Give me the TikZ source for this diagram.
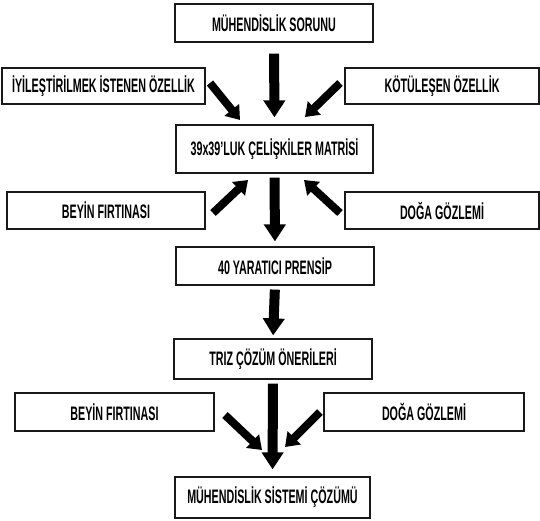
\documentclass[tikz,border=0pt]{standalone}
\usepackage{fontspec}
\setmainfont{Liberation Sans}[FakeStretch=0.55]
\usetikzlibrary{arrows.meta}
\begin{document}
\begin{tikzpicture}[x=1pt,y=-1pt,
  box/.style={draw=black!90, line width=1.2pt, rectangle, inner sep=0pt,
    font=\fontsize{19.5}{21}\selectfont\bfseries},
  bigarrow/.style={line width=10pt, -{Triangle[length=17pt,width=21pt]}},
  smallarrow/.style={line width=8pt, -{Triangle[length=13pt,width=18pt]}}]
\useasboundingbox (0,0) rectangle (540,520);
% boxes
\node[box, minimum width=198pt, minimum height=38pt] (b1) at (274,23) {MÜHENDİSLİK SORUNU};
\node[box, minimum width=203pt, minimum height=36pt] (l1) at (103.5,86) {İYİLEŞTİRİLMEK İSTENEN ÖZELLİK};
\node[box, minimum width=194pt, minimum height=36pt] (r1) at (442,86) {KÖTÜLEŞEN ÖZELLİK};
\node[box, minimum width=197pt, minimum height=48pt] (b2) at (274.5,149) {39x39’LUK ÇELİŞKİLER MATRİSİ};
\node[box, minimum width=198pt, minimum height=37pt] (l2) at (106,210.5) {BEYİN FIRTINASI};
\node[box, minimum width=194pt, minimum height=37pt] (r2) at (442,210.5) {DOĞA GÖZLEMİ};
\node[box, minimum width=198pt, minimum height=38pt] (b3) at (275,266) {40 YARATICI PRENSİP};
\node[box, minimum width=198pt, minimum height=40pt] (b4) at (273,359) {TRIZ ÇÖZÜM ÖNERİLERİ};
\node[box, minimum width=199pt, minimum height=38pt] (l3) at (114.5,412) {BEYİN FIRTINASI};
\node[box, minimum width=200pt, minimum height=38pt] (r3) at (424,412) {DOĞA GÖZLEMİ};
\node[box, minimum width=195pt, minimum height=41pt] (b5) at (272.5,497.5) {MÜHENDİSLİK SİSTEMİ ÇÖZÜMÜ};
% vertical arrows
\draw[bigarrow, shorten <=11pt, shorten >=7pt] (b1.south) -- (b2.north);
\draw[bigarrow, shorten <=4pt, shorten >=5pt] (b2.south) -- (b3.north);
\draw[bigarrow, shorten <=4pt, shorten >=3pt] (b3.south) -- (b4.north);
\draw[bigarrow, shorten <=4pt, shorten >=7pt] (b4.south) -- (b5.north);
% diagonal arrow ends
\coordinate (d1ls) at (210,83);  \coordinate (d1le) at (240,120);
\coordinate (d1rs) at (340,83);  \coordinate (d1re) at (305,117);
\coordinate (d2ls) at (213,213); \coordinate (d2le) at (248,180);
\coordinate (d2rs) at (340,213); \coordinate (d2re) at (304,180);
\coordinate (d3ls) at (225,415); \coordinate (d3le) at (262,450);
\coordinate (d3rs) at (320,412); \coordinate (d3re) at (285,447);
\draw[smallarrow] (d1ls) -- (d1le);
\draw[smallarrow] (d1rs) -- (d1re);
\draw[smallarrow] (d2ls) -- (d2le);
\draw[smallarrow] (d2rs) -- (d2re);
\draw[smallarrow] (d3ls) -- (d3le);
\draw[smallarrow] (d3rs) -- (d3re);
\end{tikzpicture}
\end{document}
